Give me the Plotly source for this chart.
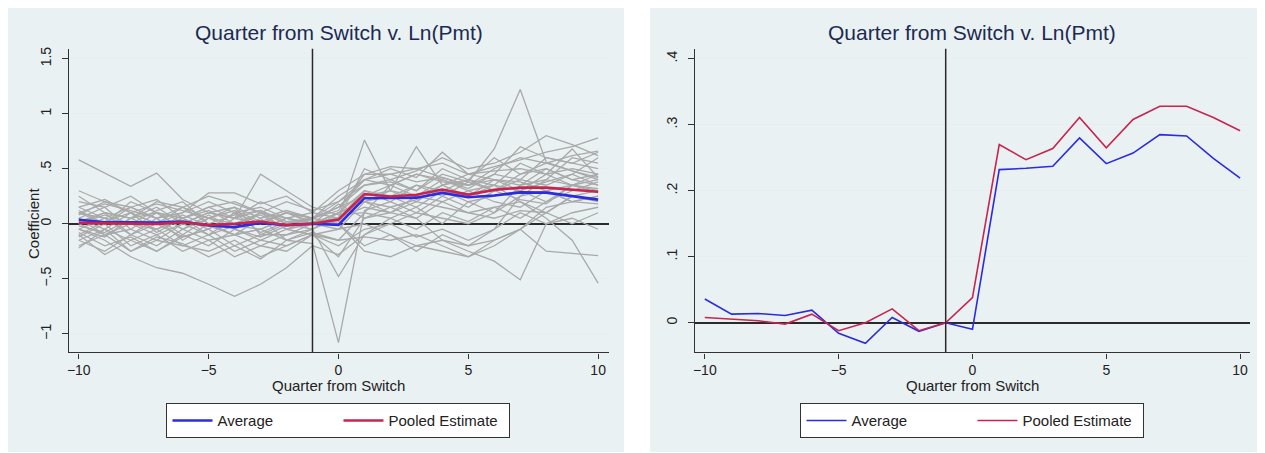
import plotly.graph_objects as go

# ---------------- data ----------------
quarters = list(range(-10, 11))

average = [0.036, 0.013, 0.014, 0.011, 0.019, -0.016, -0.031, 0.008, -0.013, 0.0,
           -0.010, 0.232, 0.234, 0.237, 0.280, 0.241, 0.257, 0.285, 0.283, 0.249, 0.219]
pooled = [0.008, 0.005, 0.003, -0.002, 0.013, -0.012, 0.0, 0.021, -0.012, 0.0,
          0.038, 0.270, 0.247, 0.264, 0.311, 0.265, 0.308, 0.328, 0.328, 0.311, 0.291]

# individual estimates (grey lines, left panel)
g01 = [0.58, 0.46, 0.34, 0.46, 0.22, 0.10, 0.05, 0.12, 0.02, 0.05, 0.15, 0.40, 0.45, 0.38, 0.42, 0.35, 0.50, 0.60, 0.55, 0.62, 0.66]
g02 = [0.05, -0.10, 0.00, -0.05, 0.08, -0.02, -0.10, -0.05, -0.15, -0.18, -1.08, 0.12, 0.20, 0.10, 0.25, 0.15, 0.30, 0.22, 0.18, 0.35, 0.30]
g03 = [-0.10, 0.02, 0.10, -0.08, 0.05, 0.12, 0.00, 0.08, -0.05, 0.05, 0.20, 0.35, 0.40, 0.30, 0.45, 0.38, 0.68, 1.22, 0.56, 0.48, 0.42]
g04 = [-0.05, -0.15, -0.30, -0.40, -0.45, -0.55, -0.66, -0.55, -0.40, -0.20, -0.28, -0.10, 0.05, -0.05, 0.10, 0.02, 0.15, 0.20, 0.10, 0.25, 0.20]
g05 = [0.10, 0.05, -0.10, 0.00, -0.12, -0.05, 0.10, -0.08, 0.02, 0.00, 0.10, 0.20, 0.15, 0.22, 0.30, 0.25, 0.35, 0.20, 0.05, -0.15, -0.54]
g06 = [0.20, 0.15, 0.25, 0.10, 0.05, 0.15, 0.20, 0.10, 0.05, 0.10, 0.30, 0.45, 0.52, 0.50, 0.55, 0.45, 0.52, 0.58, 0.65, 0.70, 0.78]
g07 = [-0.15, -0.25, -0.10, -0.20, -0.05, -0.15, -0.10, -0.20, -0.10, -0.05, 0.05, 0.76, 0.30, 0.20, 0.35, 0.25, 0.40, 0.30, 0.45, 0.35, 0.40]
g08 = [0.00, 0.10, 0.05, 0.15, 0.00, 0.10, 0.05, 0.00, 0.10, 0.05, 0.15, 0.25, 0.30, 0.70, 0.35, 0.40, 0.30, 0.45, 0.50, 0.40, 0.35]
g09 = [-0.20, -0.10, -0.25, -0.15, -0.20, -0.10, -0.25, -0.15, -0.05, -0.10, -0.05, 0.00, -0.10, -0.20, -0.15, -0.25, -0.34, -0.51, 0.00, 0.10, 0.15]
g10 = [0.05, -0.05, 0.10, 0.00, 0.15, 0.05, 0.00, 0.10, 0.00, 0.05, 0.00, -0.20, -0.10, -0.25, -0.10, -0.20, -0.15, -0.05, -0.25, -0.27, -0.29]
g11 = [0.30, 0.20, 0.15, 0.05, 0.10, 0.20, 0.10, 0.15, 0.05, 0.00, 0.10, 0.30, 0.25, 0.35, 0.30, 0.40, 0.35, 0.55, 0.45, 0.50, 0.45]
g12 = [-0.22, -0.05, -0.15, -0.25, -0.10, -0.20, -0.05, -0.15, -0.20, -0.10, -0.15, 0.10, 0.05, 0.15, 0.00, 0.20, 0.10, 0.25, 0.30, 0.20, 0.25]
g13 = [0.12, 0.00, 0.20, 0.10, -0.05, 0.05, 0.15, 0.05, 0.12, 0.05, 0.25, 0.40, 0.35, 0.45, 0.40, 0.32, 0.45, 0.40, 0.60, 0.55, 0.50]
g14 = [-0.10, -0.28, -0.15, -0.05, -0.20, -0.25, -0.15, -0.30, -0.20, -0.10, -0.20, -0.05, 0.00, -0.12, -0.05, -0.15, -0.05, 0.10, 0.00, 0.05, -0.05]
g15 = [0.05, 0.15, -0.05, 0.10, 0.05, -0.10, 0.05, 0.20, 0.10, 0.02, 0.05, 0.50, 0.40, 0.48, 0.60, 0.50, 0.55, 0.65, 0.80, 0.72, 0.62]
g16 = [0.15, 0.05, 0.00, 0.12, 0.20, 0.00, -0.10, -0.05, 0.05, 0.00, 0.10, 0.20, 0.30, 0.25, 0.35, 0.45, 0.40, 0.35, 0.40, 0.60, 0.55]
g17 = [-0.05, 0.05, 0.15, 0.05, -0.10, 0.05, -0.05, 0.10, -0.05, 0.00, 0.05, 0.15, 0.10, 0.25, 0.20, 0.30, 0.20, 0.15, 0.30, 0.20, 0.18]
g18 = [0.00, -0.10, -0.05, -0.15, 0.00, 0.10, 0.15, -0.10, -0.10, 0.00, 0.00, -0.25, -0.30, -0.20, -0.25, -0.30, -0.20, -0.05, 0.10, 0.25, 0.30]
g19 = [0.25, 0.10, 0.05, 0.20, 0.15, 0.25, 0.18, 0.10, 0.20, 0.12, 0.20, 0.40, 0.50, 0.42, 0.65, 0.45, 0.48, 0.50, 0.45, 0.68, 0.42]
g20 = [-0.12, 0.00, -0.20, -0.10, -0.25, -0.15, -0.30, -0.20, -0.25, -0.10, -0.30, 0.05, 0.15, 0.05, 0.20, 0.10, 0.15, 0.05, 0.20, 0.30, 0.38]
g21 = [0.08, 0.20, 0.10, 0.00, 0.10, 0.28, 0.28, 0.18, 0.25, 0.10, 0.05, 0.30, 0.20, 0.35, 0.25, 0.38, 0.30, 0.40, 0.35, 0.45, 0.60]
g22 = [-0.05, -0.12, 0.05, -0.05, 0.05, -0.05, 0.10, 0.00, 0.10, 0.00, -0.05, 0.20, 0.25, 0.15, 0.30, 0.20, 0.25, 0.30, 0.20, 0.35, 0.32]
g23 = [0.02, 0.10, -0.10, 0.05, -0.15, 0.00, -0.10, 0.05, -0.15, -0.05, -0.48, -0.10, 0.00, 0.10, 0.05, 0.00, 0.10, 0.35, 0.50, 0.40, 0.45]
g24 = [0.15, 0.22, 0.10, 0.18, 0.12, 0.05, 0.12, 0.02, 0.10, 0.05, 0.15, 0.35, 0.38, 0.30, 0.50, 0.40, 0.60, 0.45, 0.55, 0.48, 0.40]
g25 = [-0.08, -0.20, -0.12, -0.25, -0.12, -0.05, -0.20, -0.10, 0.00, -0.05, 0.10, 0.20, 0.10, 0.05, -0.15, -0.20, -0.05, 0.25, 0.40, 0.35, 0.28]
g26 = [0.10, 0.00, 0.15, 0.22, 0.05, 0.15, 0.05, 0.45, 0.30, 0.15, 0.08, 0.10, 0.35, 0.45, 0.38, 0.35, 0.45, 0.70, 0.60, 0.55, 0.65]
g27 = [0.00, 0.08, 0.00, -0.10, 0.00, -0.10, -0.02, -0.05, 0.05, 0.00, 0.02, 0.25, 0.35, 0.25, 0.40, 0.30, 0.35, 0.30, 0.38, 0.45, 0.35]
g28 = [-0.15, -0.05, -0.25, -0.12, -0.18, -0.30, -0.20, -0.32, -0.15, -0.08, -0.15, -0.12, -0.15, -0.10, -0.20, -0.30, -0.15, -0.05, 0.15, 0.20, 0.25]
g29 = [0.10, 0.18, 0.12, 0.05, 0.15, 0.00, 0.08, 0.12, 0.00, 0.05, 0.12, 0.45, 0.45, 0.50, 0.42, 0.35, 0.40, 0.38, 0.30, 0.35, 0.45]
g30 = [-0.02, -0.08, 0.05, 0.10, -0.05, 0.08, -0.05, -0.12, -0.02, 0.00, 0.18, 0.05, 0.10, 0.20, 0.15, 0.10, 0.05, 0.12, 0.10, 0.00, 0.10]
individual = [g01, g02, g03, g04, g05, g06, g07, g08, g09, g10, g11, g12, g13, g14, g15,
              g16, g17, g18, g19, g20, g21, g22, g23, g24, g25, g26, g27, g28, g29, g30]

x_tickvals = [-10, -5, 0, 5, 10]
x_ticktext = ["\u221210", "\u22125", "0", "5", "10"]
yl_tickvals = [-1, -0.5, 0, 0.5, 1, 1.5]
yl_ticktext = ["\u22121", "\u2212.5", "0", ".5", "1", "1.5"]
yr_tickvals = [0, 0.1, 0.2, 0.3, 0.4]
yr_ticktext = ["0", ".1", ".2", ".3", ".4"]

title_text = "Quarter from Switch v. Ln(Pmt)"
xtitle_text = "Quarter from Switch"
ytitle_text = "Coefficient"

# ---------------- styling ----------------
OFF = 8                      # page body margin of the html page
W, H = 1265 - OFF, 453 - OFF
FONT = "Liberation Sans, Arial, sans-serif"
BLUE = "#2b2be0"
RED = "#c82450"
GREY = "#a9a9a9"
PANEL = "#eaf1f3"
GRID = "#e8eef0"
DARK = "#2a2a2a"

def px_x(p):
    """page x pixel -> paper fraction"""
    return (p - OFF) / W

def px_y(p):
    """page y pixel -> paper fraction"""
    return 1 - (p - OFF) / H

left_dom = [px_x(67), px_x(608)]
right_dom = [px_x(694), px_x(1250)]
y_dom = [px_y(352), px_y(47)]

fig = go.Figure()

for s in individual:
    fig.add_trace(go.Scatter(x=quarters, y=s, mode="lines", xaxis="x", yaxis="y",
                             line=dict(color=GREY, width=1.3), showlegend=False,
                             hoverinfo="skip"))

fig.add_trace(go.Scatter(x=quarters, y=average, mode="lines", name="Average",
                         xaxis="x", yaxis="y", line=dict(color=BLUE, width=2.6),
                         legend="legend"))
fig.add_trace(go.Scatter(x=quarters, y=pooled, mode="lines", name="Pooled Estimate",
                         xaxis="x", yaxis="y", line=dict(color=RED, width=2.6),
                         legend="legend"))
fig.add_trace(go.Scatter(x=quarters, y=average, mode="lines", name="Average",
                         xaxis="x2", yaxis="y2", line=dict(color=BLUE, width=1.6),
                         legend="legend2"))
fig.add_trace(go.Scatter(x=quarters, y=pooled, mode="lines", name="Pooled Estimate",
                         xaxis="x2", yaxis="y2", line=dict(color=RED, width=1.6),
                         legend="legend2"))

tickfont = dict(family=FONT, size=14, color="#222222")
common_x = dict(tickmode="array", tickvals=x_tickvals, ticktext=x_ticktext,
                ticks="outside", ticklen=5, tickwidth=1, tickcolor="#333333",
                showline=True, linecolor="#333333", linewidth=1.2, showgrid=False,
                zeroline=False, tickfont=tickfont, fixedrange=True)
common_y = dict(tickmode="array", ticks="outside", ticklen=6, tickwidth=1,
                tickcolor="#333333", showline=True, linecolor="#333333", linewidth=1.2,
                showgrid=True, gridcolor=GRID, gridwidth=1,
                zeroline=True, zerolinecolor=DARK, zerolinewidth=1.5,
                tickfont=tickfont, tickangle=-90, ticklabelstandoff=5, fixedrange=True)

legend_common = dict(orientation="h", xanchor="center", y=px_y(403), yanchor="top",
                     bgcolor="white", bordercolor="#333333", borderwidth=1,
                     font=dict(family=FONT, size=15, color="#222222"),
                     entrywidth=116, itemwidth=40)

fig.update_layout(
    width=W, height=H, autosize=False,
    margin=dict(l=0, r=0, t=0, b=0),
    paper_bgcolor="white", plot_bgcolor="white",
    font=dict(family=FONT, color="#222222"),
    xaxis=dict(domain=left_dom, anchor="y", range=[-10.38, 10.42], **common_x),
    yaxis=dict(domain=y_dom, anchor="x", range=[-1.17, 1.59],
               tickvals=yl_tickvals, ticktext=yl_ticktext, **common_y),
    xaxis2=dict(domain=right_dom, anchor="y2", range=[-10.37, 10.37], **common_x),
    yaxis2=dict(domain=y_dom, anchor="x2", range=[-0.045, 0.415],
                tickvals=yr_tickvals, ticktext=yr_ticktext, **common_y),
    legend=dict(x=px_x(337), **legend_common),
    legend2=dict(x=px_x(972), **legend_common),
    showlegend=True,
)

shapes = [
    # panel backgrounds
    dict(type="rect", xref="paper", yref="paper", x0=px_x(6), x1=px_x(623),
         y0=px_y(452), y1=px_y(4), fillcolor=PANEL, line=dict(width=0), layer="below"),
    dict(type="rect", xref="paper", yref="paper", x0=px_x(649), x1=px_x(1266),
         y0=px_y(452), y1=px_y(4), fillcolor=PANEL, line=dict(width=0), layer="below"),
    # vertical reference lines at quarter -1
    dict(type="line", xref="x", yref="y domain", x0=-1, x1=-1, y0=0, y1=1,
         line=dict(color=DARK, width=1.5), layer="above"),
    dict(type="line", xref="x2", yref="y2 domain", x0=-1, x1=-1, y0=0, y1=1,
         line=dict(color=DARK, width=1.5), layer="above"),
]
fig.update_layout(shapes=shapes)

ann = []
for cx in (337.5, 972):
    ann.append(dict(text=title_text, xref="paper", yref="paper", x=px_x(cx), y=px_y(31),
                    xanchor="center", yanchor="middle", showarrow=False,
                    font=dict(family=FONT, size=21, color="#1c2a52")))
    ann.append(dict(text=xtitle_text, xref="paper", yref="paper", x=px_x(cx), y=px_y(385),
                    xanchor="center", yanchor="middle", showarrow=False,
                    font=dict(family=FONT, size=15, color="#222222")))
ann.append(dict(text=ytitle_text, xref="paper", yref="paper", x=px_x(31), y=px_y(222),
                xanchor="center", yanchor="middle", showarrow=False, textangle=-90,
                font=dict(family=FONT, size=15, color="#222222")))
fig.update_layout(annotations=ann)

fig.write_html("out.html")
